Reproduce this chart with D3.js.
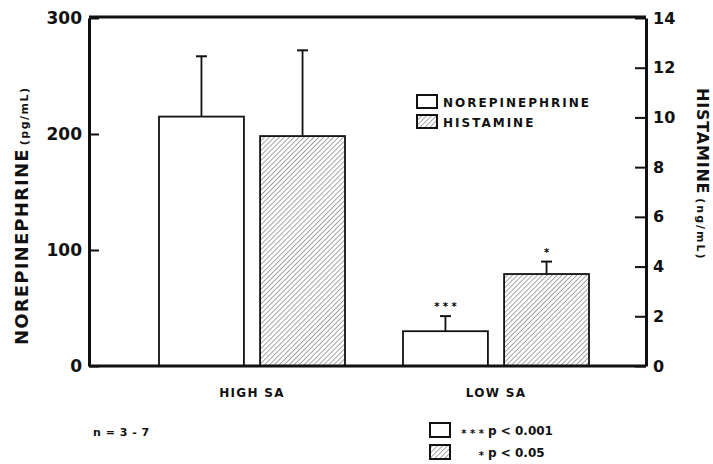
<!DOCTYPE html>
<html>
<head>
<meta charset="utf-8">
<script src="https://cdn.jsdelivr.net/npm/d3@7"></script>
<style>
  body { margin: 0; background: #fff; }
  svg { display: block; font-family: "DejaVu Sans", sans-serif; font-weight: bold; }
</style>
</head>
<body>
<script>
// data
let groups = ["HIGH SA", "LOW SA"]
let series = ["NOREPINEPHRINE", "HISTAMINE"]
let norepiMean = [215, 30]      // pg/mL
let norepiSem = [52, 13]
let histMean = [9.25, 3.7]      // ng/mL
let histSem = [3.45, 0.5]
let norepiSig = ["", "* * *"]
let histSig = ["", "*"]
let leftTicks = [0, 100, 200, 300]
let rightTicks = [0, 2, 4, 6, 8, 10, 12, 14]

let w = 713
let h = 464
let plotLeft = 89
let plotRight = 646
let plotTop = 18
let plotBottom = 366

let svg = d3.select("body").append("svg")
  .attr("width", w)
  .attr("height", h)

let defs = svg.append("defs")
let pat = defs.append("pattern")
  .attr("id", "hatch")
  .attr("patternUnits", "userSpaceOnUse")
  .attr("width", 3.5)
  .attr("height", 3.5)
  .attr("patternTransform", "rotate(45)")
pat.append("rect").attr("width", 3.5).attr("height", 3.5).attr("fill", "#fff")
pat.append("line")
  .attr("x1", 0).attr("y1", 0).attr("x2", 0).attr("y2", 3.5)
  .attr("stroke", "#777").attr("stroke-width", 1.3)

let yLeft = d3.scaleLinear().domain([0, 300]).range([plotBottom, plotTop])
let yRight = d3.scaleLinear().domain([0, 14]).range([plotBottom, plotTop])

let xGroup = d3.scaleBand().domain(groups).range([130, 618])
let xSeries = d3.scaleBand().domain(series).range([29, 215]).paddingInner(0.16)

// bars
let bars = []
groups.forEach((g, i)=>{
  bars.push({g: g, s: series[0], top: yLeft(norepiMean[i]), err: yLeft(norepiMean[i] + norepiSem[i]), sig: norepiSig[i]})
  bars.push({g: g, s: series[1], top: yRight(histMean[i]), err: yRight(histMean[i] + histSem[i]), sig: histSig[i]})
})

let cx = d=>xGroup(d.g) + xSeries(d.s) + xSeries.bandwidth()/2

let barG = svg.append("g")
barG.selectAll("line.err")
  .data(bars)
  .enter()
  .append("line")
  .attr("class", "err")
  .attr("x1", cx)
  .attr("x2", cx)
  .attr("y1", d=>d.top)
  .attr("y2", d=>d.err)
  .attr("stroke", "#111")
  .attr("stroke-width", 1.8)

barG.selectAll("line.cap")
  .data(bars)
  .enter()
  .append("line")
  .attr("class", "cap")
  .attr("x1", d=>cx(d) - 5.5)
  .attr("x2", d=>cx(d) + 5.5)
  .attr("y1", d=>d.err)
  .attr("y2", d=>d.err)
  .attr("stroke", "#111")
  .attr("stroke-width", 2)

barG.selectAll("rect")
  .data(bars)
  .enter()
  .append("rect")
  .attr("x", d=>xGroup(d.g) + xSeries(d.s))
  .attr("y", d=>d.top)
  .attr("width", xSeries.bandwidth())
  .attr("height", d=>plotBottom - d.top)
  .attr("fill", d=>d.s == "HISTAMINE" ? "url(#hatch)" : "#fff")
  .attr("stroke", "#111")
  .attr("stroke-width", 1.8)

barG.selectAll("text")
  .data(bars.filter(d=>d.sig != ""))
  .enter()
  .append("text")
  .attr("x", cx)
  .attr("y", d=>d.err - 6)
  .attr("text-anchor", "middle")
  .attr("font-size", 10)
  .text(d=>d.sig)

// axes
let leftAxis = d3.axisLeft(yLeft).tickValues(leftTicks).tickSizeInner(-10).tickSizeOuter(0).tickPadding(7)
let la = svg.append("g").attr("transform", "translate(" + plotLeft + ",0)").call(leftAxis)
la.selectAll("text").attr("font-size", 17).attr("font-family", "DejaVu Sans").attr("font-weight", "bold").attr("fill", "#111")

let rightAxis = d3.axisRight(yRight).tickValues(rightTicks).tickSizeInner(-11).tickSizeOuter(0).tickPadding(7)
let ra = svg.append("g").attr("transform", "translate(" + plotRight + ",0)").call(rightAxis)
ra.selectAll("text").attr("font-size", 16).attr("font-family", "DejaVu Sans").attr("font-weight", "bold").attr("fill", "#111")

svg.selectAll(".domain").attr("stroke", "#111").attr("stroke-width", 3)
svg.selectAll(".tick line").attr("stroke", "#111").attr("stroke-width", 2)

// frame top and baseline
svg.append("line").attr("x1", plotLeft).attr("x2", plotRight).attr("y1", plotTop - 1).attr("y2", plotTop - 1)
  .attr("stroke", "#111").attr("stroke-width", 3)
svg.append("line").attr("x1", plotLeft).attr("x2", plotRight).attr("y1", plotBottom).attr("y2", plotBottom)
  .attr("stroke", "#111").attr("stroke-width", 3)

let xAxis = d3.axisBottom(xGroup).tickSize(0).tickPadding(22)
let xa = svg.append("g").attr("transform", "translate(0," + plotBottom + ")").call(xAxis)
xa.select(".domain").remove()
xa.selectAll("text").attr("font-size", 12).attr("font-family", "DejaVu Sans").attr("font-weight", "bold")
  .attr("letter-spacing", 1.3).attr("fill", "#111")

// axis titles
let lt = svg.append("text")
  .attr("transform", "translate(28,345) rotate(-90)")
  .attr("fill", "#111")
lt.append("tspan").attr("font-size", 18).attr("letter-spacing", 1.2).text("NOREPINEPHRINE")
lt.append("tspan").attr("font-size", 11).attr("dx", 3).attr("letter-spacing", 1.5).text("(pg/mL)")

let rt = svg.append("text")
  .attr("transform", "translate(697,88) rotate(90)")
  .attr("fill", "#111")
rt.append("tspan").attr("font-size", 16).attr("letter-spacing", 0.8).text("HISTAMINE")
rt.append("tspan").attr("font-size", 11).attr("dx", 4).attr("letter-spacing", 2).text("(ng/mL)")

// legend
let legend = svg.append("g").attr("transform", "translate(417,95)")
legend.selectAll("rect")
  .data(series)
  .enter()
  .append("rect")
  .attr("x", 0)
  .attr("y", (d, i)=>i * 20)
  .attr("width", 20)
  .attr("height", 13)
  .attr("fill", d=>d == "HISTAMINE" ? "url(#hatch)" : "#fff")
  .attr("stroke", "#111")
  .attr("stroke-width", 2)
legend.selectAll("text")
  .data(series)
  .enter()
  .append("text")
  .attr("x", 26)
  .attr("y", (d, i)=>i * 20 + 11.5)
  .attr("font-size", 12)
  .attr("letter-spacing", 2)
  .attr("fill", "#111")
  .text(d=>d)

// footnotes
svg.append("text").attr("x", 93).attr("y", 436).attr("font-size", 11).attr("letter-spacing", 0.5).attr("fill", "#111").text("n = 3 - 7")

let pLabels = ["p < 0.001", "p < 0.05"]
let pMarks = ["* * *", "*"]
let foot = svg.append("g").attr("transform", "translate(430,423)")
foot.selectAll("rect")
  .data(series)
  .enter()
  .append("rect")
  .attr("x", 0)
  .attr("y", (d, i)=>i * 22)
  .attr("width", 20)
  .attr("height", 14)
  .attr("fill", d=>d == "HISTAMINE" ? "url(#hatch)" : "#fff")
  .attr("stroke", "#111")
  .attr("stroke-width", 2)
foot.selectAll("text.mark")
  .data(pMarks)
  .enter()
  .append("text")
  .attr("class", "mark")
  .attr("x", 54)
  .attr("y", (d, i)=>i * 22 + 14)
  .attr("text-anchor", "end")
  .attr("font-size", 10)
  .attr("fill", "#111")
  .text(d=>d)
foot.selectAll("text.p")
  .data(pLabels)
  .enter()
  .append("text")
  .attr("class", "p")
  .attr("x", 58)
  .attr("y", (d, i)=>i * 22 + 12)
  .attr("font-size", 12)
  .attr("fill", "#111")
  .text(d=>d)
</script>
</body>
</html>
